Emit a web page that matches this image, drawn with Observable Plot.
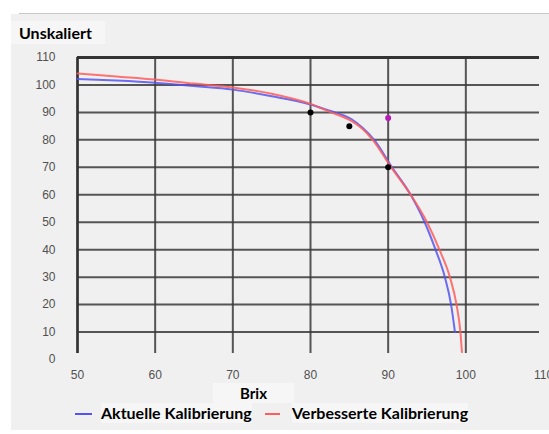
<!DOCTYPE html>
<html><head><meta charset="utf-8">
<script src="https://cdn.jsdelivr.net/npm/d3@7"></script>
<script src="https://cdn.jsdelivr.net/npm/@observablehq/plot@0.6"></script>
<style>
body{margin:0;background:#fff;width:549px;height:434px;overflow:hidden;font-family:Lato,"Noto Sans",sans-serif}
#topline{height:13px;border-bottom:1px solid #c8c8c8;margin-left:19px}
#panel{margin-left:11px;width:538px;height:416px;background:#f0f0f0;position:relative}
#titlebar{height:31px;position:relative}
#title{position:absolute;left:0;top:7px;width:86px;height:23px;padding-left:8px;background:#f6f6f6;font-weight:700;font-size:16px;line-height:23px;color:#000}
#chart svg{display:block}
#xlab{height:16px;position:relative}
#xlab span{position:absolute;left:202px;top:-2px;width:81px;height:20px;text-align:center;background:#f6f6f6;font-weight:700;font-size:15px;line-height:20px;color:#000}
#legend{height:24px;position:relative;font-weight:700;font-size:16px;color:#000}
#legend .sw{position:absolute;top:12px;height:2px;width:17px}
#legend .lt{position:absolute;top:2px;line-height:20px;background:#f6f6f6;white-space:nowrap}
</style></head>
<body>
<div id="topline"></div>
<div id="panel">
  <div id="titlebar"><span id="title">Unskaliert</span></div>
  <div id="chart"></div>
  <div id="xlab"><span>Brix</span></div>
  <div id="legend">
    <div class="sw" style="left:64px;background:#5555ee"></div>
    <div class="lt" style="left:90px">Aktuelle Kalibrierung</div>
    <div class="sw" style="left:254px;width:15px;background:#ff5c5c"></div>
    <div class="lt" style="left:281px">Verbesserte Kalibrierung</div>
  </div>
</div>
<script>
// Tick labels and grid positions
const xLabels = [50, 60, 70, 80, 90, 100, 110];
const yLabels = [0, 10, 20, 30, 40, 50, 60, 70, 80, 90, 100, 110];
const xGrid = [50, 60, 70, 80, 90, 100];
const yGrid = [10, 20, 30, 40, 50, 60, 70, 80, 90, 100];

// Series: Aktuelle Kalibrierung (blue)
const aktuelleBrix = [50, 55, 60, 65, 70, 75, 80, 82.6, 84.0, 85.3, 86.7, 88.2, 90.5, 92.9, 94.7, 96.1, 97.3, 98.1, 98.6];
const aktuelleWert = [102.2, 101.6, 100.8, 99.6, 98.3, 95.9, 92.9, 90.5, 89.2, 87.5, 84.4, 80, 70, 60, 50, 40, 30, 20, 10];

// Series: Verbesserte Kalibrierung (red)
const verbessertBrix = [50, 55, 60, 65, 70, 75, 80, 82.6, 84.0, 85.2, 86.6, 88.0, 90.4, 92.9, 95.0, 96.6, 97.95, 98.8, 99.3, 99.5];
const verbessertWert = [104.2, 103.1, 102.0, 100.5, 99.1, 96.8, 93.1, 90.1, 88.6, 87.0, 84.2, 80, 70, 60, 50, 40, 30, 20, 10, 2.7];

// Measurement points
const punktBrix = [80, 85, 90, 90];
const punktWert = [90, 85, 88, 70];
const punktFarbe = ["#000000", "#000000", "#b818b8", "#000000"];

const aktuelle = aktuelleBrix.map((x, i) => ({x, y: aktuelleWert[i]}));
const verbessert = verbessertBrix.map((x, i) => ({x, y: verbessertWert[i]}));
const punkte = punktBrix.map((x, i) => ({x, y: punktWert[i], c: punktFarbe[i]}));

const chart = Plot.plot({
  width: 538, height: 340,
  marginTop: 12, marginBottom: 26, marginLeft: 66, marginRight: 6,
  style: {background: "transparent", fontFamily: "'Liberation Sans', Arial, sans-serif", fontSize: "12px", color: "#505050"},
  x: {domain: [50, 110], ticks: xLabels, tickSize: 0, tickPadding: 11, label: null},
  y: {domain: [0, 110], ticks: yLabels, tickSize: 0, tickPadding: 22, label: null},
  marks: [
    Plot.ruleY(yGrid, {stroke: "#3a3a3a", strokeWidth: 2, strokeOpacity: 0.85, insetRight: 4}),
    Plot.ruleX(xGrid, {stroke: "#3a3a3a", strokeWidth: 2, strokeOpacity: 0.85, insetBottom: 6}),
    Plot.ruleX([50], {stroke: "#333", strokeWidth: 2.5, insetBottom: 6}),
    Plot.ruleY([110], {stroke: "#333", strokeWidth: 3, insetRight: 4}),
    Plot.line(aktuelle, {x: "x", y: "y", stroke: "#5555ee", strokeWidth: 2, strokeOpacity: 0.85, curve: "monotone-x"}),
    Plot.line(verbessert, {x: "x", y: "y", stroke: "#ff5c5c", strokeWidth: 2, strokeOpacity: 0.85, curve: "monotone-x"}),
    Plot.dot(punkte, {x: "x", y: "y", fill: "c", r: 3})
  ]
});
document.getElementById("chart").appendChild(chart);
</script>
</body></html>
